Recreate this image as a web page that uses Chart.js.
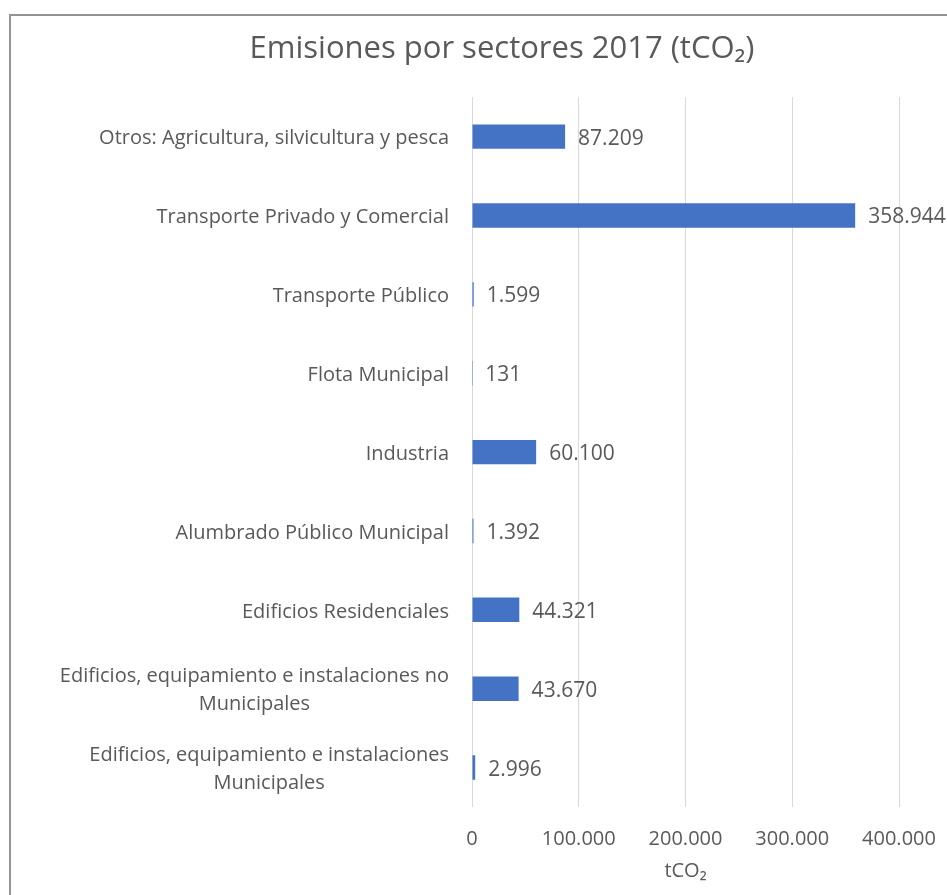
<!DOCTYPE html>
<html lang="es">
<head>
<meta charset="utf-8">
<title>Emisiones por sectores 2017</title>
<script src="https://cdn.jsdelivr.net/npm/chart.js@4.4.1/dist/chart.umd.min.js"></script>
<style>
  html, body {
    margin: 0;
    padding: 0;
    background: #fff;
    overflow: hidden;
  }

  .chart-wrapper {
    position: relative;
    width: 947px;
    height: 895px;
  }

  .chart-frame {
    position: absolute;
    left: 9px;
    top: 14px;
    width: 1100px;
    height: 1100px;
    border: 2px solid #939393;
  }

  #myChart {
    position: absolute;
    left: 0;
    top: 0;
  }
</style>
</head>
<body>
<div class="chart-wrapper">
  <div class="chart-frame"></div>
  <canvas id="myChart" width="947" height="895"></canvas>
</div>
<script>
const sectors = [
  ['Otros: Agricultura, silvicultura y pesca'],
  ['Transporte Privado y Comercial'],
  ['Transporte Público'],
  ['Flota Municipal'],
  ['Industria'],
  ['Alumbrado Público Municipal'],
  ['Edificios Residenciales'],
  ['Edificios, equipamiento e instalaciones no', 'Municipales'],
  ['Edificios, equipamiento e instalaciones', 'Municipales']
]
const emissions = [87209, 358944, 1599, 131, 60100, 1392, 44321, 43670, 2996]
const xTicks = [0, 100000, 200000, 300000, 400000]

const FONT = "'Open Sans', 'Noto Sans', sans-serif"
const TEXT = '#595959'

/**
 * Formats a number with a dot as thousands separator (131, 1.599, 358.944).
 */
function formatNumber (value) {
  return String(value).replace(/\B(?=(\d{3})+(?!\d))/g, '.')
}

/**
 * Draws the category names left of the plot, right aligned as a block,
 * with wrapped lines centred on each other.
 */
const sectorLabels = {
  id: 'sectorLabels',
  afterDraw (chart) {
    const { ctx, chartArea } = chart
    const yScale = chart.scales.y
    ctx.save()
    ctx.font = `20px ${FONT}`
    ctx.fillStyle = TEXT
    ctx.textAlign = 'center'
    ctx.textBaseline = 'middle'
    chart.data.labels.forEach((lines, i) => {
      const y = yScale.getPixelForValue(i) + 2
      const widest = Math.max(...lines.map(line => ctx.measureText(line).width))
      const x = chartArea.left - 23 - widest / 2
      lines.forEach((line, j) => {
        ctx.fillText(line, x, y + (j - (lines.length - 1) / 2) * 28)
      })
    })
    ctx.restore()
  }
}

/**
 * Writes the value next to the end of each bar.
 */
const valueLabels = {
  id: 'valueLabels',
  afterDatasetsDraw (chart) {
    const { ctx } = chart
    const meta = chart.getDatasetMeta(0)
    const values = chart.data.datasets[0].data
    ctx.save()
    ctx.font = `21px ${FONT}`
    ctx.fillStyle = TEXT
    ctx.textAlign = 'left'
    ctx.textBaseline = 'middle'
    meta.data.forEach((bar, i) => {
      ctx.fillText(formatNumber(values[i]), bar.x + 13, bar.y + 2)
    })
    ctx.restore()
  }
}

const myChart = new Chart(document.querySelector('#myChart'), {
  type: 'bar',
  data: {
    labels: sectors,
    datasets: [{
      label: 'tCO₂',
      data: emissions,
      backgroundColor: '#4472C4',
      borderWidth: 0,
      categoryPercentage: 1,
      barPercentage: 0.31
    }]
  },
  options: {
    indexAxis: 'y',
    responsive: false,
    animation: false,
    layout: {
      padding: { left: 105, right: 48, top: 0, bottom: 0 }
    },
    plugins: {
      legend: { display: false },
      tooltip: { enabled: false },
      title: {
        display: true,
        text: 'Emisiones por sectores 2017 (tCO₂)',
        color: TEXT,
        font: { family: FONT, size: 31, weight: 'normal' },
        padding: { top: 31, bottom: 29 }
      }
    },
    scales: {
      x: {
        min: 0,
        max: 400000,
        afterBuildTicks: (scale) => {
          scale.ticks = xTicks.map(value => ({ value }))
        },
        ticks: {
          callback: (value) => formatNumber(value),
          color: TEXT,
          font: { family: FONT, size: 20 },
          padding: 0,
          maxRotation: 0
        },
        grid: {
          color: '#D9D9D9',
          tickLength: 20,
          tickColor: 'transparent'
        },
        border: { display: false },
        title: {
          display: true,
          text: 'tCO₂',
          color: TEXT,
          font: { family: FONT, size: 20 },
          padding: { top: 8, bottom: 12 }
        }
      },
      y: {
        ticks: { display: false },
        grid: { display: false },
        border: { display: false },
        afterFit: (scale) => {
          scale.width = 367
        }
      }
    }
  },
  plugins: [sectorLabels, valueLabels]
})
</script>
</body>
</html>
